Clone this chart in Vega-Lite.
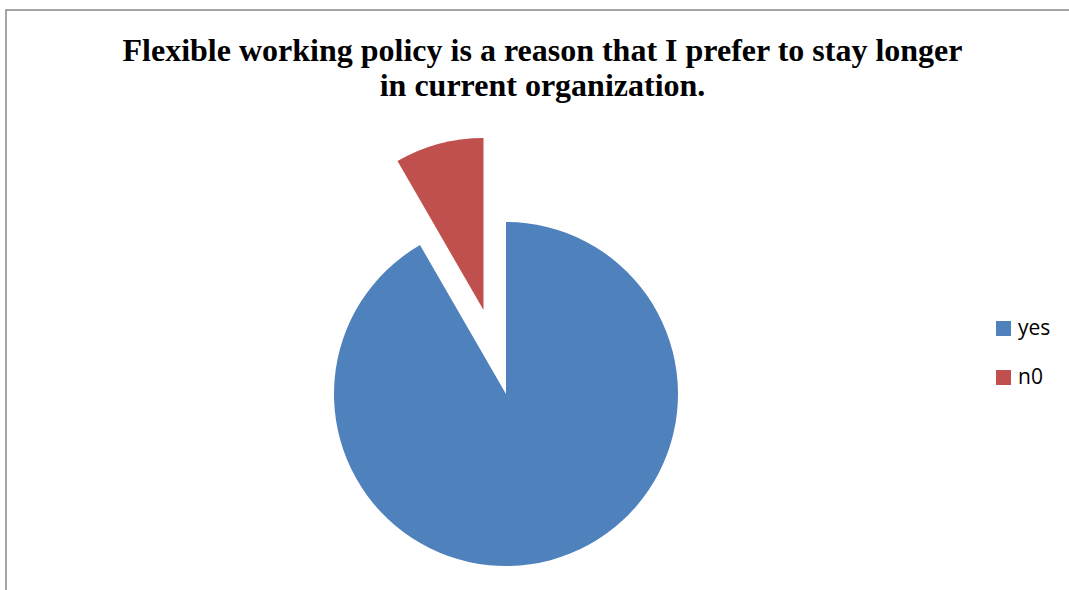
{
  "$schema": "https://vega.github.io/schema/vega-lite/v6.json",
  "autosize": {"type": "none"},
  "padding": {"left": 6, "top": 10, "right": 0, "bottom": 0},
  "width": 1070,
  "height": 590,
  "background": "white",
  "title": {
    "text": ["Flexible working policy is a reason that I prefer to stay longer", "in current organization."],
    "anchor": "middle",
    "frame": "group",
    "font": "Liberation Serif",
    "fontSize": 32,
    "fontWeight": "bold",
    "color": "black",
    "lineHeight": 35,
    "orient": "top",
    "offset": -93,
    "dx": 1.5
  },
  "data": {"values": [
    {"answer": "yes", "count": 55},
    {"answer": "n0", "count": 5}
  ]},
  "transform": [
    {"stack": "count", "groupby": [], "sort": [{"field": "answer", "order": "descending"}], "as": ["t0", "t1"]}
  ],
  "encoding": {
    "theta": {"field": "t0", "type": "quantitative", "scale": {"domain": [0, 60]}},
    "theta2": {"field": "t1"},
    "color": {
      "field": "answer",
      "type": "nominal",
      "scale": {"domain": ["yes", "n0"], "range": ["#4F81BD", "#C0504D"]},
      "legend": {
        "title": null,
        "orient": "none",
        "legendX": 987,
        "legendY": 308,
        "symbolType": "square",
        "symbolSize": 225,
        "symbolStrokeWidth": 0,
        "labelFont": "Open Sans",
        "labelFontSize": 21,
        "labelColor": "black",
        "rowPadding": 27,
        "labelOffset": 4
      }
    }
  },
  "layer": [
    {
      "transform": [{"filter": "datum.answer === 'yes'"}],
      "mark": {"type": "arc", "outerRadius": 172, "xOffset": -35, "yOffset": 89}
    },
    {
      "transform": [{"filter": "datum.answer === 'n0'"}],
      "mark": {"type": "arc", "outerRadius": 172, "xOffset": -57.5, "yOffset": 5}
    }
  ],
  "config": {
    "view": {"stroke": "#888888", "strokeWidth": 1.5},
    "style": {"view": {"stroke": "#888888", "strokeWidth": 1.5}}
  }
}
